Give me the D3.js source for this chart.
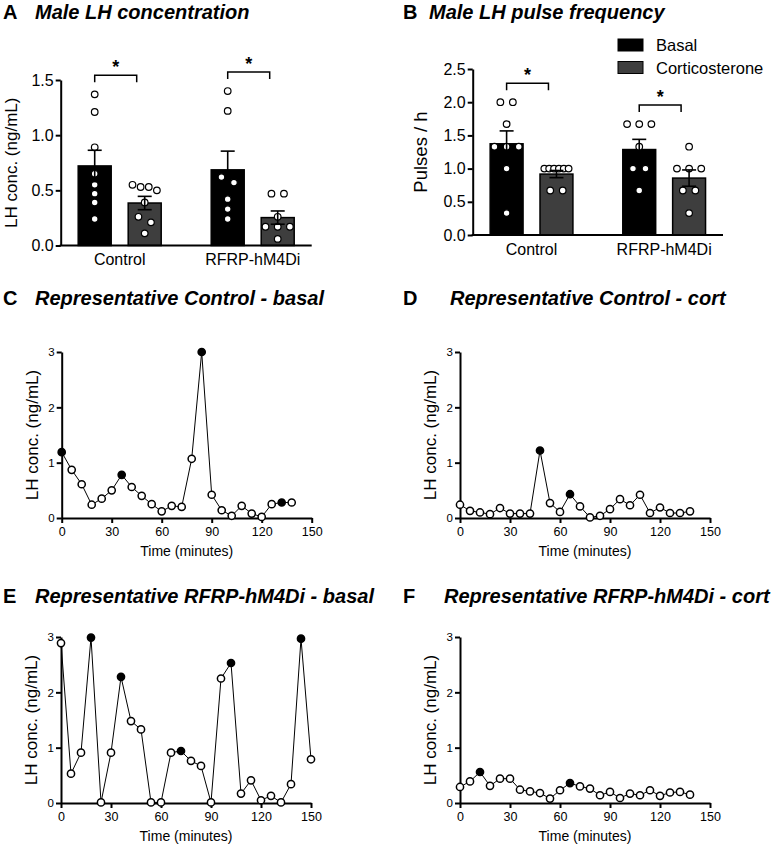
<!DOCTYPE html>
<html>
<head>
<meta charset="utf-8">
<script src="https://cdn.jsdelivr.net/npm/d3@7"></script>
<style>
  body { margin: 0; background: #fff; }
  text { font-family: "Liberation Sans", Arial, Helvetica, sans-serif; }
</style>
</head>
<body>
<script>
// ---- data ----
var groups = ["Control", "RFRP-hM4Di"];
var treatments = ["Basal", "Corticosterone"];

// A: LH concentration, ng/mL (individual animals)
var lhControlBasal = [1.37, 1.21, 0.89, 0.65, 0.55, 0.47, 0.39, 0.24];
var lhControlCort  = [0.55, 0.53, 0.53, 0.50, 0.39, 0.26, 0.21, 0.11];
var lhRfrpBasal    = [1.40, 1.22, 0.62, 0.57, 0.42, 0.33, 0.24];
var lhRfrpCort     = [0.47, 0.47, 0.26, 0.17, 0.17, 0.17, 0.06];
var lhTicks = [0, 0.5, 1.0, 1.5];

// B: pulses per hour
var freqControlBasal = [2.0, 2.0, 1.67, 1.33, 1.33, 1.33, 1.0, 0.33];
var freqControlCort  = [1.0, 1.0, 1.0, 1.0, 1.0, 1.0, 0.67, 0.67];
var freqRfrpBasal    = [1.67, 1.67, 1.67, 1.33, 1.0, 1.0, 0.67];
var freqRfrpCort     = [1.33, 1.0, 1.0, 1.0, 0.67, 0.67, 0.33];
var freqTicks = [0, 0.5, 1.0, 1.5, 2.0, 2.5];

// C-F: representative LH profiles (minutes)
var times = [0, 6, 12, 18, 24, 30, 36, 42, 48, 54, 60, 66, 72, 78, 84, 90, 96, 102, 108, 114, 120, 126, 132, 138];
var timesLong = [0, 6, 12, 18, 24, 30, 36, 42, 48, 54, 60, 66, 72, 78, 84, 90, 96, 102, 108, 114, 120, 126, 132, 138, 144, 150];
var ctrlBasal = [1.19, 0.87, 0.61, 0.24, 0.35, 0.50, 0.78, 0.56, 0.40, 0.25, 0.12, 0.22, 0.20, 1.07, 3.00, 0.42, 0.14, 0.04, 0.22, 0.08, 0.02, 0.25, 0.28, 0.28];
var ctrlCort  = [0.24, 0.13, 0.10, 0.07, 0.18, 0.08, 0.08, 0.08, 1.22, 0.27, 0.11, 0.43, 0.21, 0.01, 0.04, 0.16, 0.34, 0.23, 0.42, 0.09, 0.19, 0.09, 0.09, 0.12];
var rfrpBasal = [2.89, 0.53, 0.91, 2.99, 0.01, 0.91, 2.28, 1.48, 1.33, 0.01, 0.01, 0.91, 0.94, 0.76, 0.67, 0.01, 2.25, 2.53, 0.17, 0.41, 0.05, 0.13, 0.01, 0.34, 2.97, 0.79];
var rfrpCort  = [0.29, 0.39, 0.56, 0.31, 0.44, 0.44, 0.24, 0.21, 0.18, 0.08, 0.23, 0.36, 0.30, 0.26, 0.14, 0.20, 0.09, 0.17, 0.14, 0.23, 0.13, 0.19, 0.20, 0.15];
// pulse peaks (filled symbols)
var pulsesCtrlBasal = [0, 36, 84, 132];
var pulsesCtrlCort  = [48, 66];
var pulsesRfrpBasal = [18, 36, 72, 102, 144];
var pulsesRfrpCort  = [12, 66];
var timeTicks = [0, 30, 60, 90, 120, 150];
var lhTraceTicks = [0, 1, 2, 3];

var colors = { "Basal": "#000", "Corticosterone": "#3e3e3e" };

var svg = d3.select("body").append("svg")
    .attr("width", 777)
    .attr("height", 850)
    .style("background", "#fff");

function title(x, y, letter, label, tx) {
  svg.append("text").attr("x", x).attr("y", y)
    .style("font-size", "20px").style("font-weight", "bold")
    .text(letter);
  svg.append("text").attr("x", tx).attr("y", y)
    .style("font-size", "20px").style("font-weight", "bold").style("font-style", "italic")
    .text(label);
}

// simple GraphPad-ish scatter: same-level points in a row, near ones nudged
function swarm(vals, y, halfW, r) {
  var pts = vals.map(function(v) { return { v: v, py: y(v) }; })
    .sort(function(a, b) { return a.py - b.py; });
  var rows = [];
  pts.forEach(function(p) {
    var row = rows[rows.length - 1];
    if (row && p.py - row[0].py < 6) row.push(p);
    else rows.push([p]);
  });
  var placed = [];
  rows.forEach(function(row) {
    var n = row.length;
    if (n === 1) {
      var p = row[0];
      var c = [0, 6, -6, 10, -10].find(function(dx) {
        return placed.every(function(q) { return Math.hypot(q.dx - dx, q.py - p.py) >= 2 * r + 1; });
      });
      p.dx = c === undefined ? 0 : c;
    } else {
      var sp = Math.min(12.5, 2 * halfW / (n - 1));
      row.forEach(function(p, i) { p.dx = (i - (n - 1) / 2) * sp; });
    }
    placed = placed.concat(row);
  });
  return pts;
}

function barPanel(cfg) {
  var g = svg.append("g").attr("transform", "translate(" + cfg.left + "," + cfg.top + ")");
  var w = cfg.width, h = cfg.height;
  var y = d3.scaleLinear().domain([0, cfg.max]).range([h, 0]);
  var x0 = d3.scaleBand().domain(groups).range([0, w]).paddingInner(0.376).paddingOuter(0.1316);
  var x1 = d3.scaleBand().domain(treatments).range([0, x0.bandwidth()]).paddingInner(0.34);
  var bw = x1.bandwidth(), r = 3.3;

  groups.forEach(function(grp, gi) {
    var stats = treatments.map(function(t, ti) {
      var vals = cfg.data[gi][ti];
      var m = d3.mean(vals), sem = d3.deviation(vals) / Math.sqrt(vals.length);
      var cx = x0(grp) + x1(t) + bw / 2;
      g.append("rect")
        .attr("x", cx - bw / 2).attr("y", y(m))
        .attr("width", bw).attr("height", h - y(m))
        .attr("fill", colors[t]).attr("stroke", "#000").attr("stroke-width", 1.5);
      g.selectAll(null).data(swarm(vals, y, (bw - 2 * r - 2) / 2, r)).enter().append("circle")
        .attr("cx", function(d) { return cx + d.dx; })
        .attr("cy", function(d) { return d.py; })
        .attr("r", r)
        .attr("fill", "#fff").attr("stroke", "#000").attr("stroke-width", 1.2);
      var eb = g.append("g").attr("stroke", "#000").attr("stroke-width", 1.6);
      eb.append("line").attr("x1", cx).attr("x2", cx).attr("y1", y(m - sem)).attr("y2", y(m + sem));
      [m - sem, m + sem].forEach(function(v) {
        eb.append("line").attr("x1", cx - 7).attr("x2", cx + 7).attr("y1", y(v)).attr("y2", y(v));
      });
      return { cx: cx, max: d3.max(vals) };
    });
    // significance bracket
    var top = y(d3.max(stats, function(s) { return s.max; })) - 19;
    var x1b = stats[0].cx, x2b = stats[1].cx - 8;
    g.append("path")
      .attr("d", "M" + x1b + "," + (top + 7) + "V" + top + "H" + x2b + "V" + (top + 7))
      .attr("fill", "none").attr("stroke", "#000").attr("stroke-width", 1.5);
    g.append("text").attr("x", (x1b + x2b) / 2).attr("y", top - 2)
      .attr("text-anchor", "middle").style("font-size", "18px").style("font-weight", "bold")
      .text("*");
    g.append("text").attr("x", x0(grp) + x0.bandwidth() / 2).attr("y", h + 19.5)
      .attr("text-anchor", "middle").style("font-size", "16px").text(grp);
  });

  var ya = g.append("g").call(d3.axisLeft(y).tickValues(cfg.ticks).tickFormat(d3.format(".1f"))
      .tickSize(5).tickSizeOuter(0).tickPadding(2));
  ya.selectAll("path,line").attr("stroke-width", 2);
  ya.selectAll("text").style("font-size", "16px").attr("fill", "#000")
    .style("font-family", "'Liberation Sans', Arial, sans-serif");
  g.append("line").attr("x1", -1).attr("x2", w).attr("y1", h).attr("y2", h)
    .attr("stroke", "#000").attr("stroke-width", 2);

  g.append("text")
    .attr("transform", "translate(" + cfg.labelX + "," + (h / 2) + ") rotate(-90)")
    .attr("text-anchor", "middle").attr("dy", "0.35em")
    .style("font-size", cfg.labelSize).text(cfg.ylabel);
}

function tracePanel(cfg) {
  var w = 250, h = 166;
  var g = svg.append("g").attr("transform", "translate(" + cfg.left + "," + cfg.top + ")");
  var x = d3.scaleLinear().domain([0, 150]).range([0, w]);
  var y = d3.scaleLinear().domain([0, 3]).range([h, 0]);
  var pts = cfg.times.map(function(t, i) { return { t: t, v: cfg.values[i] }; });

  var xa = g.append("g").attr("transform", "translate(0," + h + ")")
    .call(d3.axisBottom(x).tickValues(timeTicks).tickSize(5).tickSizeOuter(0).tickPadding(4));
  var ya = g.append("g")
    .call(d3.axisLeft(y).tickValues(lhTraceTicks).tickFormat(d3.format("d"))
      .tickSize(5).tickSizeOuter(0).tickPadding(2));
  [xa, ya].forEach(function(a) {
    a.selectAll("path,line").attr("stroke-width", 2);
    a.selectAll("text").style("font-size", "12.5px").attr("fill", "#000")
      .style("font-family", "'Liberation Sans', Arial, sans-serif");
  });
  ya.selectAll("text").style("font-size", "11.5px");

  g.append("path").datum(pts)
    .attr("d", d3.line().x(function(d) { return x(d.t); }).y(function(d) { return y(d.v); }))
    .attr("fill", "none").attr("stroke", "#000").attr("stroke-width", 1);
  g.selectAll("circle").data(pts).enter().append("circle")
    .attr("cx", function(d) { return x(d.t); })
    .attr("cy", function(d) { return y(d.v); })
    .attr("r", 3.6)
    .attr("fill", function(d) { return cfg.pulses.indexOf(d.t) >= 0 ? "#000" : "#fff"; })
    .attr("stroke", "#000").attr("stroke-width", 1.5);

  g.append("text").attr("x", w / 2).attr("y", h + 38)
    .attr("text-anchor", "middle").style("font-size", "14px").text("Time (minutes)");
  g.append("text")
    .attr("transform", "translate(-30," + (h / 2) + ") rotate(-90)")
    .attr("text-anchor", "middle").attr("dy", "0.35em")
    .style("font-size", "17px").text("LH conc. (ng/mL)");
}

// ---- A ----
title(3, 19, "A", "Male LH concentration", 35);
barPanel({
  left: 60.7, top: 80, width: 251, height: 165.5, max: 1.5, ticks: lhTicks,
  data: [[lhControlBasal, lhControlCort], [lhRfrpBasal, lhRfrpCort]],
  ylabel: "LH conc. (ng/mL)", labelX: -50, labelSize: "17px"
});

// ---- B ----
title(403, 19, "B", "Male LH pulse frequency", 429);
barPanel({
  left: 472.7, top: 69, width: 250.3, height: 166, max: 2.5, ticks: freqTicks,
  data: [[freqControlBasal, freqControlCort], [freqRfrpBasal, freqRfrpCort]],
  ylabel: "Pulses / h", labelX: -52, labelSize: "18.5px"
});
var legend = svg.append("g").attr("transform", "translate(618,39)");
treatments.forEach(function(t, i) {
  legend.append("rect").attr("x", 0).attr("y", i * 22.5).attr("width", 25).attr("height", 12)
    .attr("fill", colors[t]).attr("stroke", "#000").attr("stroke-width", 1);
  legend.append("text").attr("x", 38).attr("y", i * 22.5 + 12)
    .style("font-size", "16.5px").text(t);
});

// ---- C-F ----
title(3, 305, "C", "Representative Control - basal", 35);
tracePanel({ left: 61.7, top: 352, times: times, values: ctrlBasal, pulses: pulsesCtrlBasal });
title(403, 305, "D", "Representative Control - cort", 450);
tracePanel({ left: 460, top: 352, times: times, values: ctrlCort, pulses: pulsesCtrlCort });
title(3, 603, "E", "Representative RFRP-hM4Di - basal", 35);
tracePanel({ left: 61, top: 637, times: timesLong, values: rfrpBasal, pulses: pulsesRfrpBasal });
title(403, 603, "F", "Representative RFRP-hM4Di - cort", 444);
tracePanel({ left: 460, top: 637, times: times, values: rfrpCort, pulses: pulsesRfrpCort });
</script>
</body>
</html>
